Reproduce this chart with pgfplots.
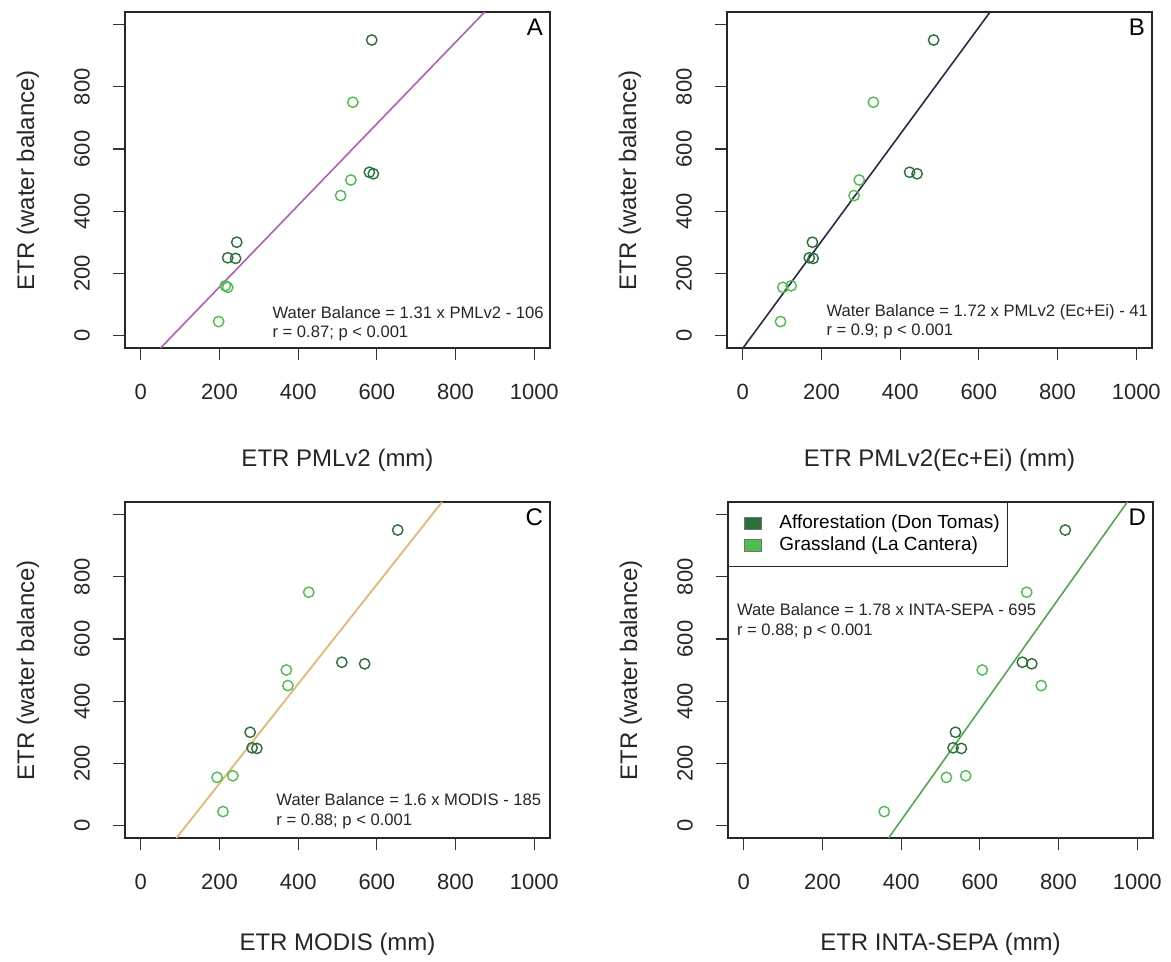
\documentclass[border=0pt]{standalone}
\usepackage{pgfplots}
\pgfplotsset{compat=1.18}
\usepackage{fontspec}
\setmainfont{Liberation Sans}
\definecolor{aff}{HTML}{2A6E38}
\definecolor{gra}{HTML}{4DBE4D}
\definecolor{lineA}{HTML}{B060B0}
\definecolor{lineB}{HTML}{2A2A48}
\definecolor{lineC}{HTML}{E2B776}
\definecolor{lineD}{HTML}{52A852}
\newcommand{\tkf}{\fontsize{11}{12}\selectfont}
\newcommand{\lbf}{\fontsize{12}{13}\selectfont}
\newcommand{\anf}{\fontsize{8.3}{9.6}\selectfont}
\pgfplotsset{
 panel/.style={
  scale only axis, width=212.5pt, height=168pt,
  xmin=-40, xmax=1040, ymin=-40, ymax=1040,
  xtick={0,200,400,600,800,1000}, ytick={0,200,400,600,800,1000},
  xticklabels={0,200,400,600,800,1000},
  yticklabels={0,200,400,600,800,{}},
  xtick pos=bottom, ytick pos=left,
  tick align=outside, major tick length=6pt,
  tick style={color=black!80, line width=0.6pt},
  axis line style={black!85, line width=0.7pt},
  ticklabel style={font=\tkf, text=black!85},
  xticklabel style={anchor=center, yshift=-16pt},
  yticklabel style={rotate=90, anchor=center, yshift=15.5pt},
  clip=false,
 },
 aff/.style={only marks, mark=o, mark size=2.6pt, draw=aff, mark options={line width=0.7pt}},
 gra/.style={only marks, mark=o, mark size=2.6pt, draw=gra, mark options={line width=0.7pt}},
}
\begin{document}
\begin{tikzpicture}
\path (0,0) rectangle (585.5pt,-477pt);
% ---------- A
\begin{axis}[panel, at={(62.5pt,-6pt)}, anchor=north west]
\addplot[aff] coordinates {(587,950) (581,525) (591,520) (244,300) (221,250) (241,248)};
\addplot[gra] coordinates {(539,750) (534,500) (508,450) (215,160) (221,155) (198,45)};
\addplot[lineA, line width=0.8pt] coordinates {(50.4,-40) (874.0,1040)};
\node[anchor=north east, font=\lbf] at (rel axis cs:1,1) {A};
\node[anchor=west, align=left, font=\anf, text=black!85] at (axis cs:317,37) {Water Balance = 1.31 x PMLv2 - 106\\r = 0.87; p < 0.001};
\node[font=\lbf, text=black!85] at ([yshift=-56pt]rel axis cs:0.5,0) {ETR PMLv2 (mm)};
\node[rotate=90, font=\lbf, text=black!85] at ([xshift=-48.5pt]rel axis cs:0,0.5) {ETR (water balance)};
\end{axis}
% ---------- B
\begin{axis}[panel, at={(363.5pt,-6pt)}, anchor=north west]
\addplot[aff] coordinates {(485,950) (424,525) (443,520) (177,300) (169,250) (179,248)};
\addplot[gra] coordinates {(332,750) (296,500) (283,450) (123,160) (102,155) (96,45)};
\addplot[lineB, line width=0.8pt] coordinates {(0.6,-40) (628.5,1040)};
\node[anchor=north east, font=\lbf] at (rel axis cs:1,1) {B};
\node[anchor=west, align=left, font=\anf, text=black!85] at (axis cs:195,45) {Water Balance = 1.72 x PMLv2 (Ec+Ei) - 41\\r = 0.9; p < 0.001};
\node[font=\lbf, text=black!85] at ([yshift=-56pt]rel axis cs:0.5,0) {ETR PMLv2(Ec+Ei) (mm)};
\node[rotate=90, font=\lbf, text=black!85] at ([xshift=-48.5pt]rel axis cs:0,0.5) {ETR (water balance)};
\end{axis}
% ---------- C
\begin{axis}[panel, at={(62.5pt,-251pt)}, anchor=north west]
\addplot[aff] coordinates {(653,950) (511,525) (569,520) (278,300) (283,250) (295,248)};
\addplot[gra] coordinates {(427,750) (370,500) (374,450) (234,160) (194,155) (209,45)};
\addplot[lineC, line width=0.9pt] coordinates {(90.6,-40) (765.6,1040)};
\node[anchor=north east, font=\lbf] at (rel axis cs:1,1) {C};
\node[anchor=west, align=left, font=\anf, text=black!85] at (axis cs:327,46) {Water Balance = 1.6 x MODIS - 185\\r = 0.88; p < 0.001};
\node[font=\lbf, text=black!85] at ([yshift=-53pt]rel axis cs:0.5,0) {ETR MODIS (mm)};
\node[rotate=90, font=\lbf, text=black!85] at ([xshift=-48.5pt]rel axis cs:0,0.5) {ETR (water balance)};
\end{axis}
% ---------- D
\begin{axis}[panel, at={(364pt,-251pt)}, anchor=north west,
  legend style={at={(rel axis cs:0,1)}, anchor=north west, draw=black!85, line width=0.6pt,
    font=\fontsize{9.5}{11}\selectfont, inner xsep=2.5pt, inner ysep=5pt, row sep=0pt,
    nodes={inner sep=1.3pt}},
  legend cell align=left,
  legend image code/.code={\path (-0.5pt,0pt); \draw[#1, draw=black!55, line width=0.4pt] (4.5pt,-3pt) rectangle (13pt,3pt); \path (20.5pt,0pt);}]
\addlegendimage{fill=aff}
\addlegendentry{Afforestation (Don Tomas)}
\addlegendimage{fill=gra}
\addlegendentry{Grassland (La Cantera)}
\addplot[aff, forget plot] coordinates {(817,950) (708,525) (732,520) (538,300) (532,250) (553,248)};
\addplot[gra, forget plot] coordinates {(719,750) (606,500) (756,450) (564,160) (515,155) (357,45)};
\addplot[lineD, line width=0.8pt, forget plot] coordinates {(368.0,-40) (974.7,1040)};
\node[anchor=north east, font=\lbf] at (rel axis cs:1,1) {D};
\node[anchor=west, align=left, font=\anf, text=black!85] at (axis cs:-35,657) {Wate Balance = 1.78 x INTA-SEPA - 695\\r = 0.88; p < 0.001};
\node[font=\lbf, text=black!85] at ([yshift=-53pt]rel axis cs:0.5,0) {ETR INTA-SEPA (mm)};
\node[rotate=90, font=\lbf, text=black!85] at ([xshift=-48.5pt]rel axis cs:0,0.5) {ETR (water balance)};
\end{axis}
\end{tikzpicture}
\end{document}
